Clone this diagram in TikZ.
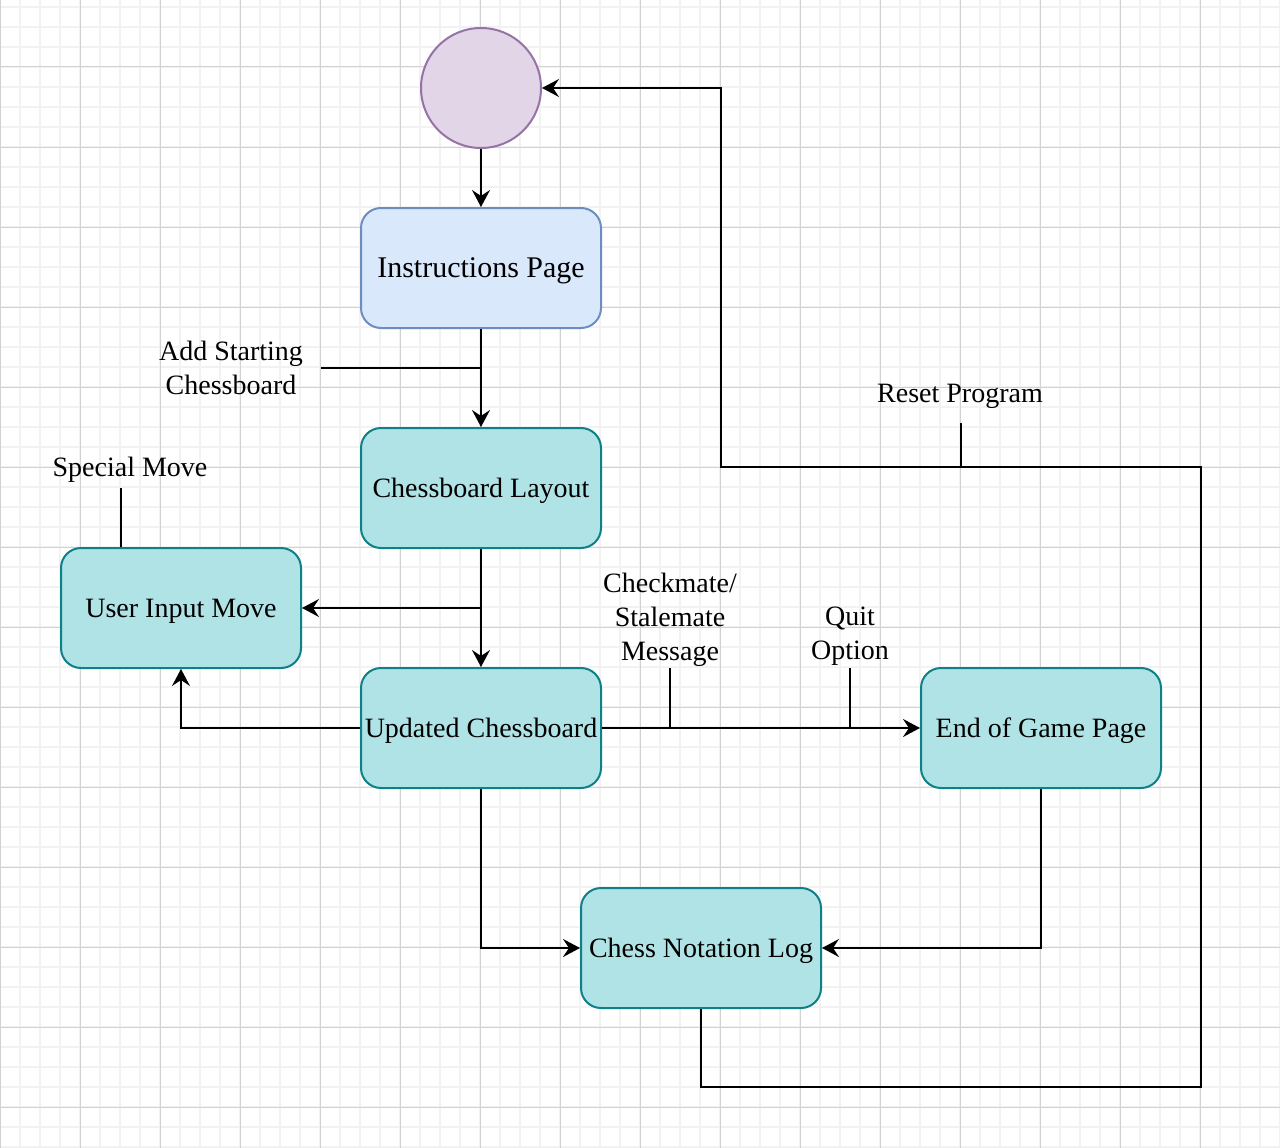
\documentclass[tikz,border=0pt]{standalone}
\usepackage{fontspec}
\setmainfont{Liberation Serif}
\usetikzlibrary{arrows.meta}
\definecolor{tealfill}{HTML}{B0E3E6}
\definecolor{tealline}{HTML}{0E8088}
\definecolor{bluefill}{HTML}{DAE8FC}
\definecolor{blueline}{HTML}{6C8EBF}
\definecolor{purplefill}{HTML}{E1D5E7}
\definecolor{purpleline}{HTML}{9673A6}
\definecolor{gridminor}{HTML}{F2F2F2}
\definecolor{gridmajor}{HTML}{D2D2D2}
\begin{document}
\begin{tikzpicture}[x=1pt,y=-1pt,
  every node/.style={font=\fontsize{28}{34}\selectfont},
  state/.style={draw=tealline, fill=tealfill, line width=2pt, rounded corners=20pt,
    minimum width=240pt, minimum height=120pt, inner sep=0pt, align=center,
    text height=20pt, text depth=2pt},
  startstate/.style={circle, draw=purpleline, fill=purplefill, line width=2pt,
    minimum size=120pt, inner sep=0pt},
  flow/.style={line width=2pt, -{Stealth[length=17pt,width=18pt,inset=6pt]}},
  tie/.style={line width=2pt},
  lbl/.style={align=center, inner sep=0pt},
]
% page and grid
\useasboundingbox (0,0) rectangle (1280,1148);
\fill[white] (0,0) rectangle (1280,1148);
\foreach \x in {0,20,...,1280} \draw[gridminor, line width=1.6pt] (\x,0) -- (\x,1148);
\foreach \y in {7,27,...,1147} \draw[gridminor, line width=1.6pt] (0,\y) -- (1280,\y);
\foreach \x in {0,80,...,1280} \draw[gridmajor, line width=1pt] (\x,0) -- (\x,1148);
\foreach \y in {67,147,...,1147} \draw[gridmajor, line width=1pt] (0,\y) -- (1280,\y);

% states
\node[startstate] (start) at (481,88) {};
\node[state, draw=blueline, fill=bluefill, font=\fontsize{30}{36}\selectfont,
  text height=21pt] (instr) at (481,268) {Instructions Page};
\node[state] (layout) at (481,488) {Chessboard Layout};
\node[state] (input) at (181,608) {User Input Move};
\node[state] (updated) at (481,728) {Updated Chessboard};
\node[state] (endgame) at (1041,728) {End of Game Page};
\node[state] (log) at (701,948) {Chess Notation Log};

% transition labels
\node[lbl, minimum width=180pt] (addlbl) at (231,368) {Add Starting\\Chessboard};
\node[lbl] (speclbl) at (130,470) {Special Move};
\node[lbl] (matelbl) at (670,620) {Checkmate/\\Stalemate\\Message};
\node[lbl] (quitlbl) at (850,636) {Quit\\Option};
\node[lbl] (resetlbl) at (960,396) {Reset Program};

% label leader anchors
\coordinate (specfoot) at (121,488);
\coordinate (matefoot) at (670,668);
\coordinate (quitfoot) at (850,668);
\coordinate (resetfoot) at (961,423);

% routing points
\coordinate (split) at (481,608);
\coordinate (rb) at (1201,1087);
\coordinate (rt) at (1201,467);
\coordinate (lt) at (721,467);

% transitions
\draw[flow] (start) -- (instr);
\draw[flow] (instr) -- (layout);
\draw[tie] (addlbl.east) -- (addlbl.east -| instr.south);
\draw[flow] (layout) -- (updated);
\draw[flow] (split) -- (input.east);
\draw[flow] (updated.west) -| (input.south);
\draw[tie] (specfoot) -- (specfoot |- input.north);
\draw[flow] (updated.east) -- (endgame.west);
\draw[tie] (matefoot) -- (matefoot |- updated.east);
\draw[tie] (quitfoot) -- (quitfoot |- updated.east);
\draw[flow] (updated.south) |- (log.west);
\draw[flow] (endgame.south) |- (log.east);
\draw[flow] (log.south) |- (rb) -- (rt) -- (lt) |- (start.east);
\draw[tie] (resetfoot) -- (resetfoot |- lt);
\end{tikzpicture}
\end{document}
